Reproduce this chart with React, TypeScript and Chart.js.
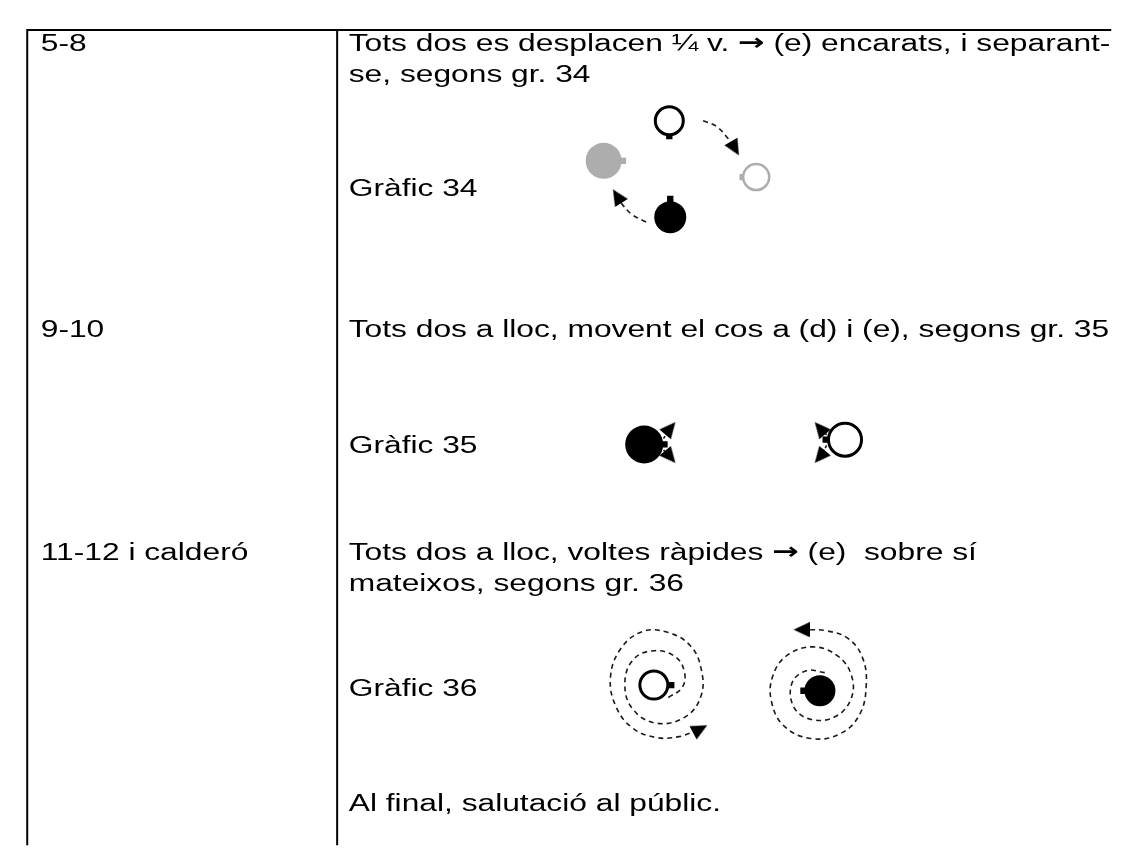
import React, { useEffect, useRef } from "react";
import { Chart, registerables } from "chart.js";

Chart.register(...registerables);

const PAGE_W = 1131;
const PAGE_H = 865;

// ---- table rules (page units) ----
const outerRule = [
  { x: 8, y: 865 },
  { x: 8, y: 11 },
  { x: 1131, y: 11 },
];
const columnRule = [
  { x: 329, y: 11 },
  { x: 329, y: 865 },
];

// ---- column 1 labels ----
const rowLabels = ["5-8", "9-10", "11-12 i calderó"];
const rowLabelY = [33, 333, 566];
const COL1_X = 22;

// ---- column 2 text lines ----
const bodyLines = [
  "Tots dos es desplacen ¼ v. → (e) encarats, i separant-",
  "se, segons gr. 34",
  "Gràfic 34",
  "Tots dos a lloc, movent el cos a (d) i (e), segons gr. 35",
  "Gràfic 35",
  "Tots dos a lloc, voltes ràpides → (e)  sobre sí",
  "mateixos, segons gr. 36",
  "Gràfic 36",
  "Al final, salutació al públic.",
];
const bodyLineY = [33, 65, 185, 333, 454, 566, 598, 708, 829];
const COL2_X = 341;

// ---- dancers ----
const whiteDancers = [
  { x: 673, y: 106 },
  { x: 855, y: 440 },
  { x: 657, y: 697 },
];
const whiteDancerRadius = [14, 16.5, 14];
const blackDancers = [
  { x: 674, y: 207 },
  { x: 647, y: 445 },
  { x: 829, y: 703 },
];
const blackDancerRadius = [16, 19, 15.5];
const greyFilledDancers = [{ x: 605, y: 148 }];
const greyOutlineDancers = [{ x: 763, y: 165 }];
const blackTabs = [
  { x: 673, y: 122 },
  { x: 674, y: 188 },
  { x: 668, y: 445 },
  { x: 835, y: 440 },
  { x: 675, y: 697 },
  { x: 812, y: 703 },
];
const greyTabs = [
  { x: 625, y: 148 },
  { x: 749, y: 165 },
];

// ---- movement paths ----
const arrow34a = [
  { x: 708, y: 106 },
  { x: 722, y: 112 },
  { x: 736, y: 127 },
];
const arrow34b = [
  { x: 649, y: 212 },
  { x: 634, y: 204 },
  { x: 622, y: 191 },
];
const arrow35Paths = [
  [
    { x: 667, y: 439 },
    { x: 671, y: 432 },
  ],
  [
    { x: 667, y: 451 },
    { x: 671, y: 455 },
  ],
  [
    { x: 836, y: 435 },
    { x: 832, y: 431 },
  ],
  [
    { x: 836, y: 446 },
    { x: 832, y: 453 },
  ],
];
const spiralLeft = [
  { x: 672, y: 710 }, { x: 686, y: 700 }, { x: 689, y: 685 }, { x: 680, y: 668 },
  { x: 658, y: 661 }, { x: 636, y: 670 }, { x: 627, y: 695 }, { x: 635, y: 722 },
  { x: 660, y: 737 }, { x: 690, y: 730 }, { x: 706, y: 708 }, { x: 706, y: 680 },
  { x: 695, y: 656 }, { x: 672, y: 642 }, { x: 645, y: 641 }, { x: 622, y: 660 },
  { x: 612, y: 690 }, { x: 618, y: 720 }, { x: 635, y: 742 }, { x: 660, y: 752 },
  { x: 683, y: 751 }, { x: 698, y: 746 },
];
const spiralRight = [
  { x: 834, y: 684 }, { x: 815, y: 682 }, { x: 800, y: 695 }, { x: 802, y: 720 },
  { x: 820, y: 733 }, { x: 845, y: 730 }, { x: 861, y: 712 }, { x: 862, y: 688 },
  { x: 848, y: 667 }, { x: 822, y: 657 }, { x: 795, y: 666 }, { x: 780, y: 688 },
  { x: 779, y: 715 }, { x: 792, y: 740 }, { x: 820, y: 753 }, { x: 850, y: 748 },
  { x: 870, y: 728 }, { x: 877, y: 697 }, { x: 873, y: 668 }, { x: 858, y: 648 },
  { x: 835, y: 640 }, { x: 818, y: 639 },
];
const arrowHeads = [
  { x: 741, y: 135 },
  { x: 619, y: 185 },
  { x: 674, y: 428 },
  { x: 674, y: 458 },
  { x: 829, y: 428 },
  { x: 829, y: 458 },
  { x: 705, y: 743 },
  { x: 810, y: 639 },
];
const arrowHeadRotation = [150, -32, 40, 140, -40, -140, 62, -90];

const FONT_SIZE = 23;
const TEXT_STRETCH = 1.38;
const GREY = "#adadad";
const INK = "#000000";
const TEXT_FONT = `${FONT_SIZE}px "Liberation Sans", Arial, Helvetica, sans-serif`;
const ARROW_FONT = `bold ${FONT_SIZE}px "DejaVu Sans", sans-serif`;

function makeArrowHead(): HTMLCanvasElement {
  const c = document.createElement("canvas");
  c.width = 15;
  c.height = 16;
  const g = c.getContext("2d")!;
  g.fillStyle = INK;
  g.beginPath();
  g.moveTo(7.5, 0);
  g.lineTo(15, 16);
  g.lineTo(0, 16);
  g.closePath();
  g.fill();
  return c;
}

const textPlugin = {
  id: "tableText",
  afterDatasetsDraw(chart: any) {
    const { ctx, scales } = chart;
    const xs = scales.x;
    const ys = scales.y;
    ctx.save();
    ctx.fillStyle = INK;
    ctx.textBaseline = "alphabetic";
    ctx.textAlign = "left";
    const draw = (t: string, vx: number, vy: number) => {
      const px = xs.getPixelForValue(vx);
      const py = ys.getPixelForValue(vy);
      ctx.save();
      ctx.translate(px, py);
      ctx.scale(TEXT_STRETCH, 1);
      const parts = t.split("→");
      let cx = 0;
      parts.forEach((part, i) => {
        ctx.font = TEXT_FONT;
        ctx.fillText(part, cx, 0);
        cx += ctx.measureText(part).width;
        if (i < parts.length - 1) {
          ctx.font = ARROW_FONT;
          ctx.fillText("→", cx, -1);
          cx += ctx.measureText("→").width;
        }
      });
      ctx.restore();
    };
    rowLabels.forEach((t, i) => draw(t, COL1_X, rowLabelY[i]));
    bodyLines.forEach((t, i) => draw(t, COL2_X, bodyLineY[i]));
    ctx.restore();
  },
};

const ruleDataset = (data: any[]) => ({
  data,
  showLine: true,
  borderColor: INK,
  borderWidth: 2,
  pointRadius: 0,
  tension: 0,
  order: 6,
});

const dashDataset = (data: any[]) => ({
  data,
  showLine: true,
  borderColor: "#1a1a1a",
  borderWidth: 1.6,
  borderDash: [5, 4],
  pointRadius: 0,
  tension: 0.4,
  order: 4,
});

export default function App() {
  const canvasRef = useRef<HTMLCanvasElement | null>(null);

  useEffect(() => {
    if (!canvasRef.current) return;
    const head = makeArrowHead();
    const chart = new Chart(canvasRef.current, {
      type: "scatter",
      data: {
        datasets: [
          ruleDataset(outerRule),
          ruleDataset(columnRule),
          dashDataset(arrow34a),
          dashDataset(arrow34b),
          ...arrow35Paths.map((p) => ({ ...dashDataset(p), tension: 0, borderDash: [3, 2] })),
          dashDataset(spiralLeft),
          dashDataset(spiralRight),
          {
            data: arrowHeads,
            pointStyle: head,
            pointRadius: 8,
            pointRotation: arrowHeadRotation,
            order: 3,
          },
          {
            data: blackTabs,
            pointStyle: "rect",
            pointRadius: 4.5,
            pointBackgroundColor: INK,
            pointBorderColor: INK,
            pointBorderWidth: 0,
            order: 2,
          },
          {
            data: greyTabs,
            pointStyle: "rect",
            pointRadius: 4.5,
            pointBackgroundColor: GREY,
            pointBorderColor: GREY,
            pointBorderWidth: 0,
            order: 2,
          },
          {
            data: whiteDancers,
            pointStyle: "circle",
            pointRadius: whiteDancerRadius,
            pointBackgroundColor: "#ffffff",
            pointBorderColor: INK,
            pointBorderWidth: 3,
            order: 1,
          },
          {
            data: blackDancers,
            pointStyle: "circle",
            pointRadius: blackDancerRadius,
            pointBackgroundColor: INK,
            pointBorderColor: INK,
            pointBorderWidth: 0,
            order: 1,
          },
          {
            data: greyFilledDancers,
            pointStyle: "circle",
            pointRadius: 18,
            pointBackgroundColor: GREY,
            pointBorderColor: GREY,
            pointBorderWidth: 0,
            order: 1,
          },
          {
            data: greyOutlineDancers,
            pointStyle: "circle",
            pointRadius: 13,
            pointBackgroundColor: "#ffffff",
            pointBorderColor: GREY,
            pointBorderWidth: 2.5,
            order: 1,
          },
        ],
      },
      options: {
        animation: false,
        responsive: false,
        maintainAspectRatio: false,
        events: [],
        layout: { padding: 0 },
        plugins: {
          legend: { display: false },
          tooltip: { enabled: false },
          title: { display: false },
        },
        scales: {
          x: { type: "linear", min: 0, max: PAGE_W, display: false },
          y: { type: "linear", min: 0, max: PAGE_H, reverse: true, display: false },
        },
      },
      plugins: [textPlugin],
    } as any);
    return () => chart.destroy();
  }, []);

  return (
    <div
      style={{
        position: "absolute",
        left: 0,
        top: 0,
        width: PAGE_W,
        height: PAGE_H,
        background: "#ffffff",
      }}
    >
      <canvas
        ref={canvasRef}
        width={PAGE_W}
        height={PAGE_H}
        style={{ width: PAGE_W, height: PAGE_H, display: "block" }}
      />
    </div>
  );
}
